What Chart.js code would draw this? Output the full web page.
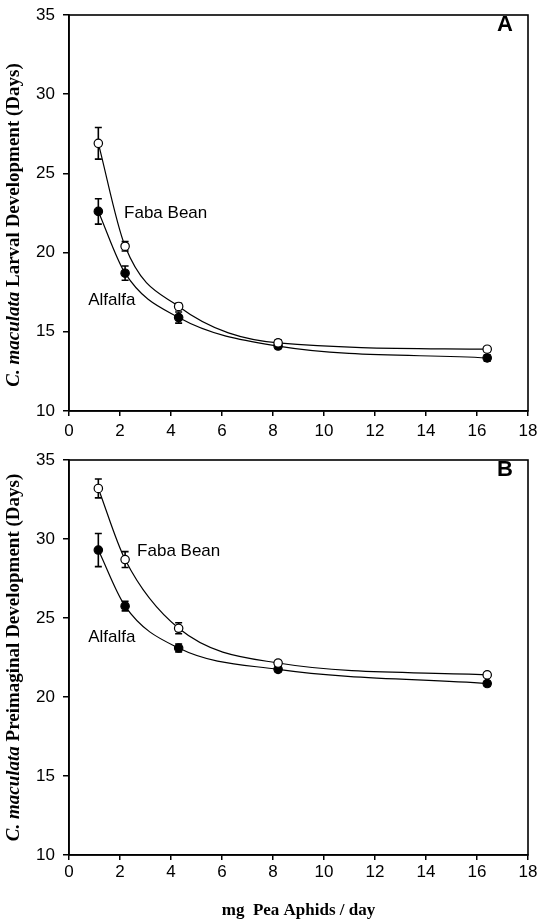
<!DOCTYPE html>
<html>
<head>
<meta charset="utf-8">
<script src="https://cdn.jsdelivr.net/npm/chart.js@4.4.1/dist/chart.umd.min.js"></script>
<style>
  body { margin: 0; background: #fff; }
  canvas { display: block; }
</style>
</head>
<body>
<canvas id="panelA" width="538" height="445"></canvas>
<canvas id="panelB" width="538" height="477"></canvas>
<script>
// mg pea aphids per day
const doseX = [1.15, 2.2, 4.3, 8.2, 16.4];

// panel A: larval development (days)
const larvalFaba = [26.9, 20.4, 16.6, 14.3, 13.9];
const larvalFabaErr = [1.0, 0.3, 0.2, 0.2, 0.15];
const larvalAlfalfa = [22.6, 18.7, 15.9, 14.1, 13.35];
const larvalAlfalfaErr = [0.8, 0.45, 0.35, 0.15, 0.2];

// panel B: preimaginal development (days)
const preimFaba = [33.2, 28.7, 24.35, 22.15, 21.4];
const preimFabaErr = [0.6, 0.5, 0.35, 0.15, 0.15];
const preimAlfalfa = [29.3, 25.75, 23.1, 21.75, 20.85];
const preimAlfalfaErr = [1.05, 0.3, 0.25, 0.15, 0.15];

const xTicks = [0, 2, 4, 6, 8, 10, 12, 14, 16, 18];
const yTicks = [10, 15, 20, 25, 30, 35];

const SANS = "'Liberation Sans', Arial, sans-serif";
const SERIF = "'Liberation Serif', 'Times New Roman', serif";

function toPoints(ys) {
    return doseX.map((x, i) => ({ x: x, y: ys[i] }));
}

// error bars, drawn under the markers
const errorBarPlugin = {
    id: 'errorBars',
    beforeDatasetsDraw(chart) {
        const ctx = chart.ctx;
        const xs = chart.scales.x, ys = chart.scales.y;
        ctx.save();
        ctx.strokeStyle = '#000';
        ctx.lineWidth = 1.6;
        chart.data.datasets.forEach(ds => {
            ds.data.forEach((p, i) => {
                const e = ds.errors[i];
                const px = xs.getPixelForValue(p.x);
                const top = ys.getPixelForValue(p.y + e);
                const bot = ys.getPixelForValue(p.y - e);
                ctx.beginPath();
                ctx.moveTo(px, top); ctx.lineTo(px, bot);
                ctx.moveTo(px - 3.5, top); ctx.lineTo(px + 3.5, top);
                ctx.moveTo(px - 3.5, bot); ctx.lineTo(px + 3.5, bot);
                ctx.stroke();
            });
        });
        ctx.restore();
    }
};

// frame, panel letter, in-plot labels, rotated y title
const decorPlugin = {
    id: 'decor',
    afterDraw(chart) {
        const ctx = chart.ctx;
        const a = chart.chartArea;
        const o = chart.options.plugins.decor;
        const xs = chart.scales.x, ys = chart.scales.y;
        ctx.save();
        ctx.strokeStyle = '#000';
        ctx.lineWidth = 1.6;
        ctx.strokeRect(a.left, a.top, a.right - a.left, a.bottom - a.top);

        ctx.fillStyle = '#000';
        ctx.font = 'bold 22px ' + SANS;
        ctx.textAlign = 'center';
        ctx.textBaseline = 'middle';
        ctx.fillText(o.letter, a.right - 23, a.top + 10);

        ctx.font = '17px ' + SANS;
        ctx.textAlign = 'left';
        o.labels.forEach(l => {
            ctx.fillText(l.text, xs.getPixelForValue(l.x), ys.getPixelForValue(l.y));
        });

        ctx.translate(14, (a.top + a.bottom) / 2 + o.titleShift);
        ctx.rotate(-Math.PI / 2);
        const f1 = 'italic bold 19px ' + SERIF;
        const f2 = 'bold 19px ' + SERIF;
        ctx.font = f1;
        const w1 = ctx.measureText(o.titleItalic).width;
        ctx.font = f2;
        const w2 = ctx.measureText(o.titleRest).width;
        let start = -(w1 + w2) / 2;
        ctx.font = f1;
        ctx.fillText(o.titleItalic, start, 0);
        ctx.font = f2;
        ctx.fillText(o.titleRest, start + w1, 0);
        ctx.restore();
    }
};

function makeConfig(faba, fabaErr, alf, alfErr, decor, xAxisHeight, xTickPad, xTitle) {
    return {
        type: 'line',
        data: {
            datasets: [
                {
                    label: 'Faba Bean',
                    data: toPoints(faba),
                    errors: fabaErr,
                    borderColor: '#000',
                    borderWidth: 1.2,
                    backgroundColor: '#fff',
                    pointBackgroundColor: '#fff',
                    pointBorderColor: '#000',
                    pointBorderWidth: 1.2,
                    pointRadius: 4.2,
                    cubicInterpolationMode: 'monotone'
                },
                {
                    label: 'Alfalfa',
                    data: toPoints(alf),
                    errors: alfErr,
                    borderColor: '#000',
                    borderWidth: 1.2,
                    backgroundColor: '#000',
                    pointBackgroundColor: '#000',
                    pointBorderColor: '#000',
                    pointBorderWidth: 1.2,
                    pointRadius: 4.2,
                    cubicInterpolationMode: 'monotone'
                }
            ]
        },
        options: {
            responsive: false,
            animation: false,
            devicePixelRatio: 1,
            layout: { padding: { left: 0, top: 15, right: 10, bottom: 0 } },
            scales: {
                x: {
                    type: 'linear',
                    min: 0,
                    max: 18,
                    afterBuildTicks: s => { s.ticks = xTicks.map(v => ({ value: v })); },
                    afterFit: s => { s.height = xAxisHeight; s.paddingLeft = 0; s.paddingRight = 0; },
                    ticks: { color: '#000', font: { family: SANS, size: 17 }, padding: xTickPad, maxRotation: 0, autoSkip: false },
                    grid: { drawOnChartArea: false, color: '#000', lineWidth: 1.5, tickLength: 5 },
                    border: { color: '#000', width: 1.6 },
                    title: {
                        display: !!xTitle,
                        text: xTitle || '',
                        color: '#000',
                        font: { family: SERIF, size: 17, weight: 'bold' },
                        padding: { top: 0, bottom: 1 }
                    }
                },
                y: {
                    min: 10,
                    max: 35,
                    afterBuildTicks: s => { s.ticks = yTicks.map(v => ({ value: v })); },
                    afterFit: s => { s.width = 69; s.paddingTop = 0; s.paddingBottom = 0; },
                    ticks: { color: '#000', font: { family: SANS, size: 17 }, padding: 8 },
                    grid: { drawOnChartArea: false, color: '#000', lineWidth: 1.5, tickLength: 6 },
                    border: { color: '#000', width: 1.6 }
                }
            },
            plugins: {
                legend: { display: false },
                tooltip: { enabled: false },
                decor: decor
            }
        },
        plugins: [errorBarPlugin, decorPlugin]
    };
}

const configPanelA = makeConfig(larvalFaba, larvalFabaErr, larvalAlfalfa, larvalAlfalfaErr, {
    letter: 'A',
    titleItalic: 'C. maculata',
    titleRest: ' Larval Development (Days)',
    titleShift: 12,
    labels: [
        { text: 'Faba Bean', x: 2.16, y: 22.5 },
        { text: 'Alfalfa', x: 0.75, y: 17.0 }
    ]
}, 34, 5, null);

const configPanelB = makeConfig(preimFaba, preimFabaErr, preimAlfalfa, preimAlfalfaErr, {
    letter: 'B',
    titleItalic: 'C. maculata',
    titleRest: ' Preimaginal Development (Days)',
    titleShift: 0,
    labels: [
        { text: 'Faba Bean', x: 2.67, y: 29.2 },
        { text: 'Alfalfa', x: 0.75, y: 23.75 }
    ]
}, 67, 2, 'mg  Pea Aphids / day');

var panelA = new Chart(document.getElementById('panelA'), configPanelA);
var panelB = new Chart(document.getElementById('panelB'), configPanelB);
</script>
</body>
</html>
